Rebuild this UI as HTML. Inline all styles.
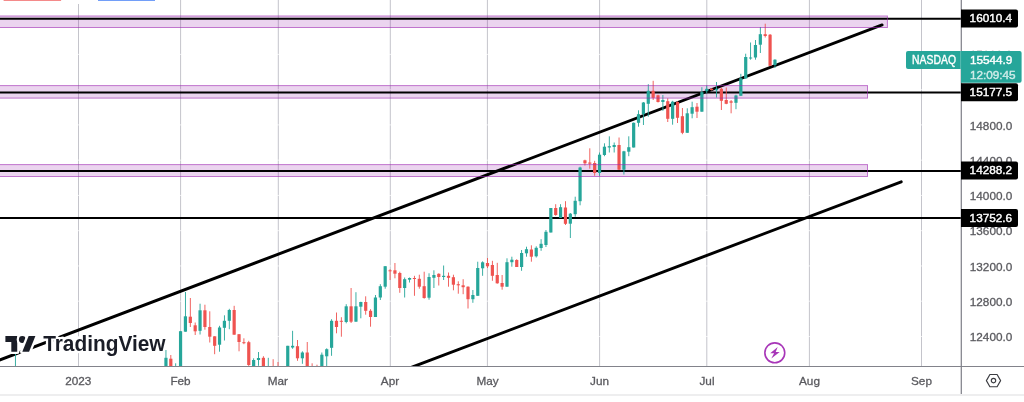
<!DOCTYPE html>
<html lang="en"><head><meta charset="utf-8"><title>NASDAQ chart</title>
<style>
html,body{margin:0;padding:0;background:#fff;}
body{width:1024px;height:402px;overflow:hidden;position:relative;font-family:"Liberation Sans",Arial,sans-serif;}
svg{position:absolute;left:0;top:0;display:block;}
svg text{font-family:"Liberation Sans",Arial,sans-serif;}
.ax{font-size:11.75px;fill:#5a5a5f;stroke:#5a5a5f;stroke-width:.3px;}
.lb{font-size:11.75px;fill:#fff;stroke:#fff;stroke-width:.4px;}
.logo{font-size:21.6px;font-weight:bold;fill:#1a1d27;stroke:#fff;stroke-width:4.6px;paint-order:stroke;stroke-linejoin:round;}
</style></head><body>
<svg width="1024" height="402" viewBox="0 0 1024 402">
<rect x="0" y="0" width="1024" height="402" fill="#fff"/>

<g id="grid" stroke="#c4c4cb" stroke-width="1" shape-rendering="auto">
<line x1="78.5" y1="4" x2="78.5" y2="366" />
<line x1="180.6" y1="0" x2="180.6" y2="366" />
<line x1="278.3" y1="0" x2="278.3" y2="366" />
<line x1="390.3" y1="0" x2="390.3" y2="366" />
<line x1="487.4" y1="0" x2="487.4" y2="366" />
<line x1="599.6" y1="0" x2="599.6" y2="366" />
<line x1="706.8" y1="0" x2="706.8" y2="366" />
<line x1="809.4" y1="0" x2="809.4" y2="366" />
<line x1="921.5" y1="0" x2="921.5" y2="366" />
</g>
<g id="hgrid" stroke="#fff" stroke-opacity="0.7" stroke-width="1">
<line x1="0" y1="19.12" x2="961" y2="19.12"/>
<line x1="0" y1="54.38" x2="961" y2="54.38"/>
<line x1="0" y1="89.64" x2="961" y2="89.64"/>
<line x1="0" y1="124.9" x2="961" y2="124.9"/>
<line x1="0" y1="160.16" x2="961" y2="160.16"/>
<line x1="0" y1="195.42" x2="961" y2="195.42"/>
<line x1="0" y1="230.68" x2="961" y2="230.68"/>
<line x1="0" y1="265.94" x2="961" y2="265.94"/>
<line x1="0" y1="301.2" x2="961" y2="301.2"/>
<line x1="0" y1="336.46" x2="961" y2="336.46"/>
</g>
<defs><clipPath id="cp"><rect x="0" y="0" width="961" height="366.3"/></clipPath></defs>
<g id="zones" fill="#9c27b0" fill-opacity="0.2">
<rect x="-5" y="16" width="892.4" height="11.5"/>
<rect x="-5" y="85.6" width="872.5" height="12.5"/>
<rect x="-5" y="164.6" width="872.5" height="11.9"/>
</g>
<g id="hlines" stroke="#000" stroke-width="2">
<line x1="0" y1="18.8" x2="961.5" y2="18.8"/>
<line x1="0" y1="92.4" x2="961.5" y2="92.4"/>
<line x1="0" y1="171.1" x2="961.5" y2="171.1"/>
<line x1="0" y1="218.1" x2="961.5" y2="218.1"/>
</g>
<g id="trend" stroke="#000" stroke-width="2.95" stroke-linecap="round" clip-path="url(#cp)">
<line x1="-20" y1="367.45" x2="882.1" y2="24.9"/>
<line x1="400.4" y1="371.5" x2="901.2" y2="181.8"/>
</g>
<g id="candles" clip-path="url(#cp)">
<rect x="14.96" y="354" width="0.9" height="16" fill="#26a69a"/>
<rect x="165.5" y="350" width="0.9" height="20" fill="#26a69a"/>
<rect x="164.35" y="357.8" width="3.2" height="12.2" fill="#26a69a"/>
<rect x="170.37" y="355" width="0.9" height="15" fill="#ef5350"/>
<rect x="169.22" y="358.7" width="3.2" height="11.3" fill="#ef5350"/>
<rect x="175.24" y="363.3" width="0.9" height="6.7" fill="#26a69a"/>
<rect x="180.11" y="331.2" width="0.9" height="38.8" fill="#26a69a"/>
<rect x="178.96" y="331.2" width="3.2" height="38.8" fill="#26a69a"/>
<rect x="184.98" y="292" width="0.9" height="39.7" fill="#26a69a"/>
<rect x="183.83" y="316.3" width="3.2" height="15.4" fill="#26a69a"/>
<rect x="189.86" y="298" width="0.9" height="29" fill="#ef5350"/>
<rect x="188.71" y="316.7" width="3.2" height="6.3" fill="#ef5350"/>
<rect x="194.73" y="322.5" width="0.9" height="12.5" fill="#ef5350"/>
<rect x="193.58" y="325.3" width="3.2" height="6" fill="#ef5350"/>
<rect x="199.6" y="303.7" width="0.9" height="30.8" fill="#26a69a"/>
<rect x="198.45" y="310.3" width="3.2" height="20.5" fill="#26a69a"/>
<rect x="204.47" y="304.7" width="0.9" height="25" fill="#ef5350"/>
<rect x="203.32" y="310.3" width="3.2" height="16.7" fill="#ef5350"/>
<rect x="209.34" y="311.3" width="0.9" height="31.2" fill="#ef5350"/>
<rect x="208.19" y="327" width="3.2" height="9.7" fill="#ef5350"/>
<rect x="214.22" y="336.3" width="0.9" height="17.9" fill="#ef5350"/>
<rect x="213.07" y="336.3" width="3.2" height="9.5" fill="#ef5350"/>
<rect x="219.09" y="325.8" width="0.9" height="25.9" fill="#26a69a"/>
<rect x="217.94" y="327.5" width="3.2" height="17.2" fill="#26a69a"/>
<rect x="223.96" y="315.3" width="0.9" height="25.2" fill="#26a69a"/>
<rect x="222.81" y="320.8" width="3.2" height="7" fill="#26a69a"/>
<rect x="228.83" y="308.8" width="0.9" height="20.4" fill="#26a69a"/>
<rect x="227.68" y="310" width="3.2" height="10.8" fill="#26a69a"/>
<rect x="233.7" y="305.8" width="0.9" height="28.9" fill="#ef5350"/>
<rect x="232.55" y="310" width="3.2" height="24.7" fill="#ef5350"/>
<rect x="238.58" y="334.2" width="0.9" height="17.1" fill="#ef5350"/>
<rect x="237.43" y="334.2" width="3.2" height="7.8" fill="#ef5350"/>
<rect x="243.45" y="338.3" width="0.9" height="5.9" fill="#ef5350"/>
<rect x="242.3" y="342.2" width="3.2" height="1" fill="#ef5350"/>
<rect x="248.32" y="340.8" width="0.9" height="29.2" fill="#ef5350"/>
<rect x="247.17" y="342.2" width="3.2" height="22.8" fill="#ef5350"/>
<rect x="253.19" y="358.3" width="0.9" height="11.7" fill="#26a69a"/>
<rect x="252.04" y="360" width="3.2" height="10" fill="#26a69a"/>
<rect x="258.06" y="352" width="0.9" height="13.8" fill="#26a69a"/>
<rect x="256.91" y="358" width="3.2" height="2" fill="#26a69a"/>
<rect x="262.94" y="356.2" width="0.9" height="13.8" fill="#ef5350"/>
<rect x="261.79" y="357.8" width="3.2" height="12.2" fill="#ef5350"/>
<rect x="267.81" y="357.8" width="0.9" height="12.2" fill="#26a69a"/>
<rect x="272.68" y="359.2" width="0.9" height="10.8" fill="#ef5350"/>
<rect x="277.55" y="362" width="0.9" height="8" fill="#ef5350"/>
<rect x="287.3" y="345.8" width="0.9" height="24.2" fill="#26a69a"/>
<rect x="286.15" y="345.8" width="3.2" height="24.2" fill="#26a69a"/>
<rect x="292.17" y="330.8" width="0.9" height="18" fill="#26a69a"/>
<rect x="291.02" y="345.8" width="3.2" height="1.7" fill="#26a69a"/>
<rect x="297.04" y="340" width="0.9" height="20.8" fill="#ef5350"/>
<rect x="295.89" y="346.2" width="3.2" height="12.1" fill="#ef5350"/>
<rect x="301.91" y="351.3" width="0.9" height="12.5" fill="#26a69a"/>
<rect x="300.76" y="352.5" width="3.2" height="5.8" fill="#26a69a"/>
<rect x="306.78" y="342" width="0.9" height="28" fill="#ef5350"/>
<rect x="305.63" y="352.5" width="3.2" height="17.5" fill="#ef5350"/>
<rect x="311.66" y="363.3" width="0.9" height="6.7" fill="#ef5350"/>
<rect x="316.53" y="364.7" width="0.9" height="5.3" fill="#ef5350"/>
<rect x="321.4" y="352.5" width="0.9" height="17.5" fill="#26a69a"/>
<rect x="320.25" y="354.7" width="3.2" height="15.3" fill="#26a69a"/>
<rect x="326.27" y="348.3" width="0.9" height="18.2" fill="#26a69a"/>
<rect x="325.12" y="349.2" width="3.2" height="7.1" fill="#26a69a"/>
<rect x="331.14" y="319.2" width="0.9" height="36.6" fill="#26a69a"/>
<rect x="329.99" y="320.8" width="3.2" height="27" fill="#26a69a"/>
<rect x="336.02" y="312.5" width="0.9" height="20.8" fill="#ef5350"/>
<rect x="334.87" y="320.8" width="3.2" height="6.2" fill="#ef5350"/>
<rect x="340.89" y="317.2" width="0.9" height="19.5" fill="#ef5350"/>
<rect x="339.74" y="320.8" width="3.2" height="1" fill="#ef5350"/>
<rect x="345.76" y="304.2" width="0.9" height="19.1" fill="#26a69a"/>
<rect x="344.61" y="306.3" width="3.2" height="15.7" fill="#26a69a"/>
<rect x="350.63" y="288" width="0.9" height="35" fill="#ef5350"/>
<rect x="349.48" y="306.3" width="3.2" height="15.4" fill="#ef5350"/>
<rect x="355.5" y="292.2" width="0.9" height="29.5" fill="#26a69a"/>
<rect x="354.35" y="306.3" width="3.2" height="15.4" fill="#26a69a"/>
<rect x="360.38" y="301.7" width="0.9" height="16.6" fill="#26a69a"/>
<rect x="359.23" y="302" width="3.2" height="4.7" fill="#26a69a"/>
<rect x="365.25" y="296.3" width="0.9" height="18.4" fill="#ef5350"/>
<rect x="364.1" y="302" width="3.2" height="8.8" fill="#ef5350"/>
<rect x="370.12" y="309.2" width="0.9" height="17.5" fill="#ef5350"/>
<rect x="368.97" y="310.8" width="3.2" height="6.2" fill="#ef5350"/>
<rect x="374.99" y="295" width="0.9" height="22" fill="#26a69a"/>
<rect x="373.84" y="297.5" width="3.2" height="19.5" fill="#26a69a"/>
<rect x="379.86" y="284.2" width="0.9" height="15.8" fill="#26a69a"/>
<rect x="378.71" y="286.2" width="3.2" height="11.3" fill="#26a69a"/>
<rect x="384.74" y="266.2" width="0.9" height="22.5" fill="#26a69a"/>
<rect x="383.59" y="266.2" width="3.2" height="20.5" fill="#26a69a"/>
<rect x="389.61" y="269.2" width="0.9" height="10.8" fill="#ef5350"/>
<rect x="388.46" y="270.3" width="3.2" height="1" fill="#ef5350"/>
<rect x="394.48" y="263" width="0.9" height="15.3" fill="#ef5350"/>
<rect x="393.33" y="270.3" width="3.2" height="3.4" fill="#ef5350"/>
<rect x="399.35" y="271.7" width="0.9" height="21.1" fill="#ef5350"/>
<rect x="398.2" y="273" width="3.2" height="15" fill="#ef5350"/>
<rect x="404.22" y="277.5" width="0.9" height="20" fill="#26a69a"/>
<rect x="403.07" y="279.2" width="3.2" height="8.8" fill="#26a69a"/>
<rect x="409.1" y="277.5" width="0.9" height="5" fill="#26a69a"/>
<rect x="407.95" y="278" width="3.2" height="1.7" fill="#26a69a"/>
<rect x="413.97" y="275.8" width="0.9" height="20" fill="#ef5350"/>
<rect x="412.82" y="278" width="3.2" height="1" fill="#ef5350"/>
<rect x="418.84" y="274.7" width="0.9" height="14" fill="#ef5350"/>
<rect x="417.69" y="278.8" width="3.2" height="7.9" fill="#ef5350"/>
<rect x="423.71" y="271.7" width="0.9" height="27" fill="#ef5350"/>
<rect x="422.56" y="286.2" width="3.2" height="11.8" fill="#ef5350"/>
<rect x="428.58" y="273.3" width="0.9" height="26.4" fill="#26a69a"/>
<rect x="427.43" y="277" width="3.2" height="20.7" fill="#26a69a"/>
<rect x="433.46" y="270.3" width="0.9" height="17.7" fill="#26a69a"/>
<rect x="432.31" y="275" width="3.2" height="2.8" fill="#26a69a"/>
<rect x="438.33" y="273.3" width="0.9" height="12.2" fill="#ef5350"/>
<rect x="437.18" y="273.8" width="3.2" height="3.2" fill="#ef5350"/>
<rect x="443.2" y="265.5" width="0.9" height="14.5" fill="#26a69a"/>
<rect x="442.05" y="275.8" width="3.2" height="1.2" fill="#26a69a"/>
<rect x="448.07" y="272.5" width="0.9" height="14.2" fill="#ef5350"/>
<rect x="446.92" y="275.8" width="3.2" height="2" fill="#ef5350"/>
<rect x="452.94" y="274.7" width="0.9" height="15.6" fill="#ef5350"/>
<rect x="451.79" y="277.2" width="3.2" height="7.5" fill="#ef5350"/>
<rect x="457.82" y="281.3" width="0.9" height="12.4" fill="#ef5350"/>
<rect x="456.67" y="284.2" width="3.2" height="1.1" fill="#ef5350"/>
<rect x="462.69" y="279.2" width="0.9" height="15" fill="#ef5350"/>
<rect x="461.54" y="285.3" width="3.2" height="1.9" fill="#ef5350"/>
<rect x="467.56" y="286.3" width="0.9" height="22.2" fill="#ef5350"/>
<rect x="466.41" y="286.7" width="3.2" height="12.5" fill="#ef5350"/>
<rect x="472.43" y="290" width="0.9" height="12.8" fill="#26a69a"/>
<rect x="471.28" y="295" width="3.2" height="4.2" fill="#26a69a"/>
<rect x="477.3" y="261.7" width="0.9" height="34.1" fill="#26a69a"/>
<rect x="476.15" y="268" width="3.2" height="27.8" fill="#26a69a"/>
<rect x="482.18" y="261.3" width="0.9" height="14.5" fill="#26a69a"/>
<rect x="481.03" y="262.3" width="3.2" height="6" fill="#26a69a"/>
<rect x="487.05" y="258" width="0.9" height="10" fill="#ef5350"/>
<rect x="485.9" y="263" width="3.2" height="3.3" fill="#ef5350"/>
<rect x="491.92" y="260.8" width="0.9" height="20" fill="#ef5350"/>
<rect x="490.77" y="265" width="3.2" height="10.8" fill="#ef5350"/>
<rect x="496.79" y="262.8" width="0.9" height="20.9" fill="#ef5350"/>
<rect x="495.64" y="275" width="3.2" height="8.3" fill="#ef5350"/>
<rect x="501.66" y="275" width="0.9" height="14.7" fill="#ef5350"/>
<rect x="500.51" y="283" width="3.2" height="3.7" fill="#ef5350"/>
<rect x="506.54" y="258.3" width="0.9" height="28.4" fill="#26a69a"/>
<rect x="505.39" y="262.2" width="3.2" height="24.5" fill="#26a69a"/>
<rect x="511.41" y="256.7" width="0.9" height="10" fill="#26a69a"/>
<rect x="510.26" y="259.7" width="3.2" height="2.5" fill="#26a69a"/>
<rect x="516.28" y="259.2" width="0.9" height="7.8" fill="#ef5350"/>
<rect x="515.13" y="260" width="3.2" height="7" fill="#ef5350"/>
<rect x="521.15" y="250" width="0.9" height="20.8" fill="#26a69a"/>
<rect x="520" y="253" width="3.2" height="14" fill="#26a69a"/>
<rect x="526.02" y="246.7" width="0.9" height="10" fill="#26a69a"/>
<rect x="524.87" y="249.2" width="3.2" height="4.1" fill="#26a69a"/>
<rect x="530.9" y="245.3" width="0.9" height="16.4" fill="#ef5350"/>
<rect x="529.75" y="249.5" width="3.2" height="7.2" fill="#ef5350"/>
<rect x="535.77" y="246.3" width="0.9" height="11.2" fill="#26a69a"/>
<rect x="534.62" y="247.8" width="3.2" height="8.5" fill="#26a69a"/>
<rect x="540.64" y="239.2" width="0.9" height="11.6" fill="#26a69a"/>
<rect x="539.49" y="243.8" width="3.2" height="4.2" fill="#26a69a"/>
<rect x="545.51" y="230" width="0.9" height="17" fill="#26a69a"/>
<rect x="544.36" y="231.8" width="3.2" height="13.2" fill="#26a69a"/>
<rect x="550.38" y="208" width="0.9" height="24.5" fill="#26a69a"/>
<rect x="549.23" y="208" width="3.2" height="24.5" fill="#26a69a"/>
<rect x="555.26" y="204.2" width="0.9" height="11.6" fill="#ef5350"/>
<rect x="554.11" y="208" width="3.2" height="7" fill="#ef5350"/>
<rect x="560.13" y="204.2" width="0.9" height="13.6" fill="#26a69a"/>
<rect x="558.98" y="207.2" width="3.2" height="10.6" fill="#26a69a"/>
<rect x="565" y="201.2" width="0.9" height="23.8" fill="#ef5350"/>
<rect x="563.85" y="207.5" width="3.2" height="16.3" fill="#ef5350"/>
<rect x="569.87" y="213" width="0.9" height="25" fill="#26a69a"/>
<rect x="568.72" y="213.7" width="3.2" height="10" fill="#26a69a"/>
<rect x="574.74" y="196.7" width="0.9" height="20" fill="#26a69a"/>
<rect x="573.59" y="200.8" width="3.2" height="13.4" fill="#26a69a"/>
<rect x="579.62" y="166.7" width="0.9" height="38.6" fill="#26a69a"/>
<rect x="578.47" y="167.5" width="3.2" height="33.7" fill="#26a69a"/>
<rect x="584.49" y="159.7" width="0.9" height="5.8" fill="#ef5350"/>
<rect x="583.34" y="160.3" width="3.2" height="3" fill="#ef5350"/>
<rect x="589.36" y="148.3" width="0.9" height="20.4" fill="#ef5350"/>
<rect x="588.21" y="162.5" width="3.2" height="1.2" fill="#ef5350"/>
<rect x="594.23" y="160.8" width="0.9" height="15" fill="#ef5350"/>
<rect x="593.08" y="163" width="3.2" height="10" fill="#ef5350"/>
<rect x="599.1" y="152.5" width="0.9" height="23.3" fill="#26a69a"/>
<rect x="597.95" y="154.7" width="3.2" height="18.3" fill="#26a69a"/>
<rect x="603.98" y="143.3" width="0.9" height="12.9" fill="#26a69a"/>
<rect x="602.83" y="146.7" width="3.2" height="8.3" fill="#26a69a"/>
<rect x="608.85" y="136.3" width="0.9" height="16.2" fill="#26a69a"/>
<rect x="607.7" y="146.2" width="3.2" height="1.3" fill="#26a69a"/>
<rect x="613.72" y="142.5" width="0.9" height="10" fill="#26a69a"/>
<rect x="612.57" y="145" width="3.2" height="2" fill="#26a69a"/>
<rect x="618.59" y="137.5" width="0.9" height="32.5" fill="#ef5350"/>
<rect x="617.44" y="145" width="3.2" height="24.7" fill="#ef5350"/>
<rect x="623.46" y="150.8" width="0.9" height="23.7" fill="#26a69a"/>
<rect x="622.31" y="151.3" width="3.2" height="18.4" fill="#26a69a"/>
<rect x="628.34" y="136.3" width="0.9" height="19.9" fill="#26a69a"/>
<rect x="627.19" y="147.2" width="3.2" height="4.5" fill="#26a69a"/>
<rect x="633.21" y="122.5" width="0.9" height="25" fill="#26a69a"/>
<rect x="632.06" y="122.8" width="3.2" height="24.7" fill="#26a69a"/>
<rect x="638.08" y="110.3" width="0.9" height="16.4" fill="#26a69a"/>
<rect x="636.93" y="114.2" width="3.2" height="8.6" fill="#26a69a"/>
<rect x="642.95" y="102" width="0.9" height="23" fill="#26a69a"/>
<rect x="641.8" y="102.5" width="3.2" height="11.7" fill="#26a69a"/>
<rect x="647.82" y="84.2" width="0.9" height="32.5" fill="#26a69a"/>
<rect x="646.67" y="90.8" width="3.2" height="13" fill="#26a69a"/>
<rect x="652.7" y="80.8" width="0.9" height="19.2" fill="#ef5350"/>
<rect x="651.55" y="90.8" width="3.2" height="7" fill="#ef5350"/>
<rect x="657.57" y="94.7" width="0.9" height="7.8" fill="#ef5350"/>
<rect x="656.42" y="95.3" width="3.2" height="6.7" fill="#ef5350"/>
<rect x="662.44" y="95" width="0.9" height="15.8" fill="#26a69a"/>
<rect x="661.29" y="100" width="3.2" height="2" fill="#26a69a"/>
<rect x="667.31" y="98.3" width="0.9" height="23.7" fill="#ef5350"/>
<rect x="666.16" y="101.2" width="3.2" height="17.6" fill="#ef5350"/>
<rect x="672.18" y="100.8" width="0.9" height="23.9" fill="#26a69a"/>
<rect x="671.03" y="101.7" width="3.2" height="17.1" fill="#26a69a"/>
<rect x="677.06" y="101.3" width="0.9" height="21.7" fill="#ef5350"/>
<rect x="675.91" y="102" width="3.2" height="15.8" fill="#ef5350"/>
<rect x="681.93" y="108" width="0.9" height="26.2" fill="#ef5350"/>
<rect x="680.78" y="116.2" width="3.2" height="16.6" fill="#ef5350"/>
<rect x="686.8" y="108.3" width="0.9" height="24.5" fill="#26a69a"/>
<rect x="685.65" y="113.3" width="3.2" height="19.5" fill="#26a69a"/>
<rect x="691.67" y="101.7" width="0.9" height="16.6" fill="#26a69a"/>
<rect x="690.52" y="107.2" width="3.2" height="6.5" fill="#26a69a"/>
<rect x="696.54" y="103" width="0.9" height="15" fill="#ef5350"/>
<rect x="695.39" y="106.7" width="3.2" height="5" fill="#ef5350"/>
<rect x="701.42" y="87.2" width="0.9" height="24.5" fill="#26a69a"/>
<rect x="700.27" y="92.2" width="3.2" height="19.5" fill="#26a69a"/>
<rect x="706.29" y="85.5" width="0.9" height="7.8" fill="#26a69a"/>
<rect x="705.14" y="88.8" width="3.2" height="2.4" fill="#26a69a"/>
<rect x="711.16" y="88.3" width="0.9" height="2.2" fill="#ef5350"/>
<rect x="710.01" y="88.7" width="3.2" height="1.3" fill="#ef5350"/>
<rect x="716.03" y="82" width="0.9" height="15.5" fill="#26a69a"/>
<rect x="714.88" y="88.8" width="3.2" height="1.5" fill="#26a69a"/>
<rect x="720.9" y="87.5" width="0.9" height="22.5" fill="#ef5350"/>
<rect x="719.75" y="88.8" width="3.2" height="12" fill="#ef5350"/>
<rect x="725.78" y="87.5" width="0.9" height="16.7" fill="#ef5350"/>
<rect x="724.63" y="100" width="3.2" height="3.8" fill="#ef5350"/>
<rect x="730.65" y="100" width="0.9" height="13.3" fill="#ef5350"/>
<rect x="729.5" y="101.3" width="3.2" height="1.4" fill="#ef5350"/>
<rect x="735.52" y="94.7" width="0.9" height="14.5" fill="#26a69a"/>
<rect x="734.37" y="95.5" width="3.2" height="7.3" fill="#26a69a"/>
<rect x="740.39" y="73.8" width="0.9" height="22" fill="#26a69a"/>
<rect x="739.24" y="78.3" width="3.2" height="17.5" fill="#26a69a"/>
<rect x="745.26" y="53.7" width="0.9" height="24.8" fill="#26a69a"/>
<rect x="744.11" y="57" width="3.2" height="21.5" fill="#26a69a"/>
<rect x="750.14" y="42.5" width="0.9" height="17.2" fill="#26a69a"/>
<rect x="748.99" y="57.5" width="3.2" height="1" fill="#26a69a"/>
<rect x="755.01" y="40" width="0.9" height="19.7" fill="#26a69a"/>
<rect x="753.86" y="45" width="3.2" height="12.5" fill="#26a69a"/>
<rect x="759.88" y="27" width="0.9" height="26" fill="#26a69a"/>
<rect x="758.73" y="34.2" width="3.2" height="10.5" fill="#26a69a"/>
<rect x="764.75" y="23.7" width="0.9" height="13.8" fill="#ef5350"/>
<rect x="763.6" y="34.2" width="3.2" height="1.8" fill="#ef5350"/>
<rect x="769.62" y="34" width="0.9" height="31.8" fill="#ef5350"/>
<rect x="768.47" y="34.7" width="3.2" height="31.1" fill="#ef5350"/>
<rect x="774.5" y="59.2" width="0.9" height="8.8" fill="#26a69a"/>
<rect x="773.35" y="59.7" width="3.2" height="5.3" fill="#26a69a"/>
</g>
<g id="zone-borders" fill="none" stroke="#9c27b0" stroke-opacity="0.6" stroke-width="1">
<rect x="-5" y="16" width="892.4" height="11.5"/>
<rect x="-5" y="85.6" width="872.5" height="12.5"/>
<rect x="-5" y="164.6" width="872.5" height="11.9"/>
</g>
<rect x="3.6" y="-1" width="57.5" height="1.8" fill="#f26d6d"/>
<rect x="98" y="-1" width="57" height="1.8" fill="#4f86f7"/>
<g id="axes" stroke="#82838b" stroke-width="1">
<line x1="0" y1="366.5" x2="1024" y2="366.5"/>
<line x1="961.3" y1="0" x2="961.3" y2="394.5" stroke-width="1.25"/>
</g>
<line x1="0" y1="395" x2="1024" y2="395" stroke="#eeeeef" stroke-width="2"/>
<g id="plabels" class="ax">
<text x="969.8" y="129.65">14800.0</text>
<text x="969.8" y="164.91">14400.0</text>
<text x="969.8" y="200.17">14000.0</text>
<text x="969.8" y="235.43">13600.0</text>
<text x="969.8" y="270.69">13200.0</text>
<text x="969.8" y="305.95">12800.0</text>
<text x="969.8" y="341.21">12400.0</text>
<text x="969.8" y="94.39">15200.0</text>
<text x="969.8" y="59.13">15600.0</text>
<text x="969.8" y="23.87">16000.0</text>
</g>
<g id="tlabels" class="ax" text-anchor="middle">
<text x="78.3" y="385">2023</text>
<text x="180.5" y="385">Feb</text>
<text x="277.9" y="385">Mar</text>
<text x="390" y="385">Apr</text>
<text x="487.5" y="385">May</text>
<text x="599.5" y="385">Jun</text>
<text x="707" y="385">Jul</text>
<text x="809.5" y="385">Aug</text>
<text x="921.5" y="385">Sep</text>
</g>
<g id="last">
<path d="M961 51v18h-53a2 2 0 0 1-2-2v-14a2 2 0 0 1 2-2z" fill="#26a69a"/>
<text class="lb" x="912.1" y="63.75" textLength="43.9" lengthAdjust="spacingAndGlyphs" style="font-size:12.4px">NASDAQ</text>
<path d="M961 51h58.6a2 2 0 0 1 2 2v27.7a2 2 0 0 1-2 2H961z" fill="#26a69a"/>
<line x1="960.6" y1="51" x2="960.6" y2="69" stroke="#fff" stroke-opacity="0.3" stroke-width="0.8"/>
<text class="lb" x="969.9" y="64.1">15544.9</text>
<text class="lb" x="969.9" y="78.5" opacity="0.78">12:09:45</text>
</g>
<g id="hl-labels">
<path d="M961 9.4 h55 a2 2 0 0 1 2 2 v14 a2 2 0 0 1 -2 2 h-55 z" fill="#000"/>
<text class="lb" x="969.6" y="22.4">16010.4</text>
<path d="M961 83.2 h55 a2 2 0 0 1 2 2 v14 a2 2 0 0 1 -2 2 h-55 z" fill="#000"/>
<text class="lb" x="969.6" y="96.2">15177.5</text>
<path d="M961 161.4 h55 a2 2 0 0 1 2 2 v14 a2 2 0 0 1 -2 2 h-55 z" fill="#000"/>
<text class="lb" x="969.6" y="174.4">14288.2</text>
<path d="M961 209 h55 a2 2 0 0 1 2 2 v14 a2 2 0 0 1 -2 2 h-55 z" fill="#000"/>
<text class="lb" x="969.6" y="222">13752.6</text>
</g>
<g id="flash">
<circle cx="774.8" cy="352.8" r="9.95" fill="#fff" stroke="#a836b8" stroke-width="1.6"/>
<path d="M777.7 347.1 L770.2 353.3 L774.1 353.3 L771.3 358.4 L779.7 352.1 L775.7 352.1 Z" fill="#a836b8"/>
</g>
<g id="gear" fill="none" stroke="#3c3d42" stroke-width="1.15">
<path d="M986.4 380.6 L989.9 374.5 L997.1 374.5 L1000.6 380.6 L997.1 386.7 L989.9 386.7 Z" stroke-linejoin="round"/>
<circle cx="993.5" cy="380.6" r="2.2"/>
</g>
<g id="logo">
<g transform="translate(5.4 332.5) scale(0.845 0.87)" fill="#1a1d27" stroke="#fff" stroke-width="5.4" paint-order="stroke" stroke-linejoin="round" style="paint-order:stroke">
<path d="M14 22H7V11H0V4h14z"/><circle cx="20" cy="8" r="4"/><path d="M28 22h-8l7.5-18h8z"/>
</g>
<text class="logo" x="43.2" y="351.05" textLength="122.3" lengthAdjust="spacingAndGlyphs">TradingView</text>
</g>
</svg>
</body></html>
